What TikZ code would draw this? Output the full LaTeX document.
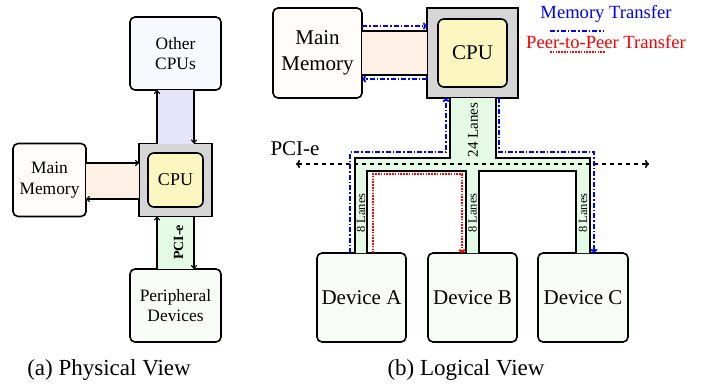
\documentclass[tikz,border=0pt]{standalone}
\usepackage{fontspec}
\setmainfont{Liberation Serif}
\usetikzlibrary{arrows.meta}

\definecolor{lavband}{HTML}{E4E4FA}
\definecolor{lavbox}{HTML}{F8F8FF}
\definecolor{peachband}{HTML}{FDF0E4}
\definecolor{peachbox}{HTML}{FFFCF9}
\definecolor{greenband}{HTML}{E4FAE4}
\definecolor{greenbox}{HTML}{F8FCF6}
\definecolor{cpugray}{HTML}{D6D6D6}
\definecolor{cpuyellow}{HTML}{FCF7C0}
\definecolor{memblue}{HTML}{0000FF}
\definecolor{p2pred}{HTML}{FF0000}

\tikzset{
  box/.style={draw, line width=1.6pt, rounded corners=5pt, outer sep=0pt,
    inner sep=0pt, align=center},
  cpuframe/.style={draw, line width=1.6pt, fill=cpugray, outer sep=0pt, inner sep=0pt},
  cpucore/.style={box, fill=cpuyellow, rounded corners=6pt},
  fonta/.style={font=\rmfamily\fontsize{17.4}{20.5}\selectfont},
  fontb/.style={font=\rmfamily\fontsize{21}{26}\selectfont},
  thinarrow/.style={line width=1.1pt, -{To[length=4pt,width=6pt]}},
  edgeline/.style={line width=1.5pt},
  memline/.style={memblue, line width=1.8pt, dash pattern=on 5pt off 2pt on 1.5pt off 2pt},
  memarrow/.style={memline, -{To[length=4pt,width=7pt]}},
  p2pline/.style={p2pred, line width=2pt, dash pattern=on 1.6pt off 1.2pt},
  p2parrow/.style={p2pline, -{To[length=4pt,width=7pt]}},
  busline/.style={line width=1.6pt, dash pattern=on 4.5pt off 3.5pt, {To[length=4pt,width=8pt]}-{To[length=4pt,width=8pt]}},
  lanes/.style={rotate=90, inner sep=0pt},
  caption/.style={font=\rmfamily\fontsize{23}{27}\selectfont}
}

\begin{document}
\begin{tikzpicture}[x=1pt, y=-1pt]
\useasboundingbox (0,0) rectangle (709,388);

% ---------- (a) physical view ----------
\node[box, fonta, fill=lavbox, minimum width=91pt, minimum height=73pt] (othercpu) at (175.5,53.5) {Other\\CPUs};
\node[box, fonta, fill=peachbox, minimum width=73pt, minimum height=73pt] (mainmemA) at (49.5,180) {Main\\Memory};
\node[cpuframe, minimum width=73pt, minimum height=73pt] (cpuA) at (175.5,180) {};
\node[cpucore, minimum width=55pt, minimum height=54pt, font=\rmfamily\fontsize{18}{20}\selectfont] (coreA) at (cpuA.center) {CPU};
\node[box, fonta, fill=greenbox, minimum width=91pt, minimum height=73pt] (periph) at (175.5,305.5) {Peripheral\\Devices};

% links between the boxes
\fill[lavband] ([xshift=-18.5pt]cpuA.north) rectangle ([xshift=18.5pt]othercpu.south);
\draw[thinarrow] ([xshift=-18.5pt]cpuA.north) -- ([xshift=-18.5pt]othercpu.south);
\draw[thinarrow] ([xshift=18.5pt]othercpu.south) -- ([xshift=18.5pt]cpuA.north);

\fill[peachband] ([yshift=17pt]mainmemA.east) rectangle ([yshift=-19pt]cpuA.west);
\draw[thinarrow] ([yshift=17pt]mainmemA.east) -- ([yshift=17pt]cpuA.west);
\draw[thinarrow] ([yshift=-19pt]cpuA.west) -- ([yshift=-19pt]mainmemA.east);

\fill[greenband] ([xshift=-18.5pt]cpuA.south) rectangle ([xshift=18.5pt]periph.north);
\draw[thinarrow] ([xshift=-18.5pt]periph.north) -- ([xshift=-18.5pt]cpuA.south);
\draw[thinarrow] ([xshift=18.5pt]cpuA.south) -- ([xshift=18.5pt]periph.north);
\node[lanes, font=\rmfamily\bfseries\fontsize{14}{16}\selectfont] (pcieA) at (178.5,242.5) {PCI-e};

\node[caption] (capA) at (109,370) {(a) Physical View};

% ---------- (b) logical view ----------
\node[box, fontb, fill=peachbox, minimum width=89pt, minimum height=90pt] (mainmemB) at (317.5,53) {Main\\Memory};
\node[cpuframe, minimum width=91pt, minimum height=90pt] (cpuB) at (472.5,53) {};
\node[cpucore, minimum width=69pt, minimum height=68pt, fontb] (coreB) at (cpuB.center) {CPU};

\node[box, fontb, fill=greenbox, minimum width=89pt, minimum height=89pt] (devA) at (361.5,297.5) {Device A};
\node[box, fontb, fill=greenbox, minimum width=89pt, minimum height=89pt] (devB) at (472.5,297.5) {Device B};
\node[box, fontb, fill=greenbox, minimum width=90pt, minimum height=89pt] (devC) at (583,297.5) {Device C};

% memory link
\fill[peachband] ([yshift=22pt]mainmemB.east) rectangle ([yshift=-22pt]cpuB.west);
\draw[edgeline] ([yshift=22pt]mainmemB.east) -- ([yshift=22pt]cpuB.west);
\draw[edgeline] ([yshift=-22pt]mainmemB.east) -- ([yshift=-22pt]cpuB.west);

% PCI-e tree: 24-lane trunk splitting into three 8-lane branches
\fill[greenband] (450,98) -- (450,158) -- (355,158) -- (355,253) -- (367,253) -- (367,171)
  -- (466,171) -- (466,253) -- (479,253) -- (479,171) -- (576,171) -- (576,253)
  -- (590,253) -- (590,158) -- (496,158) -- (496,98) -- cycle;
\draw[edgeline] (450,98) -- (450,158) -- (355,158) -- (355,253);
\draw[edgeline] (367,253) -- (367,171) -- (466,171) -- (466,253);
\draw[edgeline] (479,253) -- (479,171) -- (576,171) -- (576,253);
\draw[edgeline] (590,253) -- (590,158) -- (496,158) -- (496,98);

\coordinate (busL) at (296,164);
\coordinate (busR) at (649,164);
\draw[busline] (busL) -- (busR);
\node[font=\rmfamily\fontsize{21}{24}\selectfont] (pcieB) at (295,149) {PCI-e};

\node[lanes, font=\rmfamily\fontsize{15}{17}\selectfont] (lanes24) at (473,130) {24 Lanes};
\node[lanes, font=\rmfamily\fontsize{12.5}{14}\selectfont] (lanesA) at (361,213) {8 Lanes};
\node[lanes, font=\rmfamily\fontsize{12.5}{14}\selectfont] (lanesB) at (472.5,213) {8 Lanes};
\node[lanes, font=\rmfamily\fontsize{12.5}{14}\selectfont] (lanesC) at (583,213) {8 Lanes};

% memory transfers
\draw[memarrow] ([yshift=27pt]mainmemB.east) -- ([yshift=27pt]cpuB.west);
\draw[memarrow] ([yshift=-26pt]cpuB.west) -- ([yshift=-26pt]mainmemB.east);
\draw[memarrow] ([xshift=-11.5pt]devA.north) |- ([xshift=-26.5pt,yshift=-54pt]cpuB.south)
  -- ([xshift=-26.5pt]cpuB.south);
\draw[memarrow] ([xshift=26.5pt]cpuB.south) -- ([xshift=26.5pt,yshift=-54pt]cpuB.south)
  -| ([xshift=11pt]devC.north);

% peer-to-peer transfer
\draw[p2parrow] ([xshift=11.5pt]devA.north) |- ([xshift=-10.5pt,yshift=79pt]devB.north)
  -- ([xshift=-10.5pt]devB.north);

% legend
\node[memblue, font=\rmfamily\fontsize{18.6}{21}\selectfont] (legmem) at (606,14) {Memory Transfer};
\coordinate (legmemL) at (550,31);
\coordinate (legmemR) at (603,31);
\draw[memline] (legmemL) -- (legmemR);
\node[p2pred, font=\rmfamily\fontsize{18.6}{21}\selectfont] (legp2p) at (606,42) {Peer-to-Peer Transfer};
\coordinate (legp2pL) at (550,52);
\coordinate (legp2pR) at (605,52);
\draw[p2pline] (legp2pL) -- (legp2pR);

\node[caption] (capB) at (466,370) {(b) Logical View};
\end{tikzpicture}
\end{document}
